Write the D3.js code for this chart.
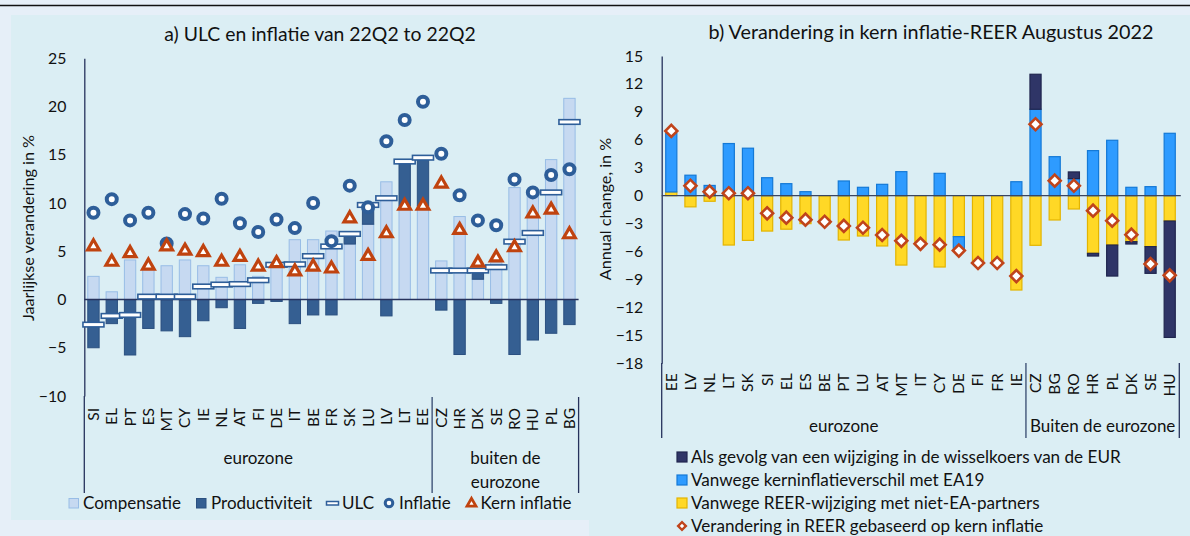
<!DOCTYPE html>
<html><head><meta charset="utf-8">
<script src="https://cdn.jsdelivr.net/npm/d3@7"></script>
<style>
body{margin:0;background:#e6eff8;}
svg{display:block;font-family:Lato,"Noto Sans",sans-serif;}
</style></head><body><svg id="c" width="1190" height="536"></svg>
<script>
// ---------- Panel a data ----------
const cats1 = ["SI","EL","PT","ES","MT","CY","IE","NL","AT","FI","DE","IT","BE","FR","SK","LU","LV","LT","EE","CZ","HR","DK","SE","RO","HU","PL","BG"];
const comp  = [2.4,0.8,4.1,3.2,3.5,4.1,3.5,2.3,3.6,2.4,3.8,6.2,6.2,7.1,5.75,7.8,12.2,9.7,9.7,4.0,8.6,2.1,3.8,11.6,11.1,14.5,20.85];
const prod  = [-5.0,-2.5,-5.75,-3.0,-3.25,-3.85,-2.2,-0.85,-3.0,-0.4,-0.2,-2.5,-1.6,-1.6,1.05,2.0,-1.7,4.6,5.0,-1.1,-5.7,0.9,-0.4,-5.7,-4.2,-3.5,-2.6];
const ulc   = [-2.6,-1.7,-1.6,0.3,0.3,0.3,1.35,1.55,1.6,2.0,3.6,3.65,4.5,5.5,6.8,9.8,10.5,14.3,14.7,3.0,3.0,3.0,3.35,6.0,6.9,11.1,18.4];
const infl  = [9.0,10.4,8.2,9.0,5.8,8.85,8.4,10.45,7.9,7.0,8.3,7.4,10.0,6.05,11.8,9.55,16.4,18.6,20.5,15.1,10.8,8.2,7.7,12.45,11.1,12.9,13.5];
const kern  = [5.5,3.9,4.8,3.5,5.5,5.05,4.9,3.9,4.4,3.4,3.75,2.9,3.4,3.2,8.4,4.5,6.85,9.7,9.7,12.0,7.2,3.8,4.35,5.4,8.9,9.3,6.75];
const ticks1 = [-10,-5,0,5,10,15,20,25];
const groups1 = [{lines:["eurozone"],first:"SI",last:"EE"},{lines:["buiten de","eurozone"],first:"CZ",last:"BG"}];
const legend1 = ["Compensatie","Productiviteit","ULC","Inflatie","Kern inflatie"];

// ---------- Panel b data ----------
const cats2 = ["EE","LV","NL","LT","SK","SI","EL","ES","BE","PT","LU","AT","MT","IT","CY","DE","FI","FR","IE","CZ","BG","RO","HR","PL","DK","SE","HU"];
const exch    = [0,0,0,0,0,0,0,0,0,0,0,0,0,0,0,0,0,0,0,3.76,0,0.72,-0.29,-3.33,-0.25,-2.87,-12.5];
const kernDif = [6.3,2.2,1.1,5.6,5.1,1.93,1.29,0.43,0,1.58,0.9,1.22,2.58,0,2.4,-1.45,0,0,1.5,9.28,4.19,1.83,4.84,5.95,0.9,0.97,6.7];
const reerNon = [0.4,-1.2,-0.6,-5.3,-4.8,-3.8,-3.6,-3.0,-3.0,-4.76,-4.33,-5.4,-7.45,-5.1,-7.66,-4.4,-7.2,-7.3,-10.13,-5.33,-2.61,-1.43,-6.19,-5.3,-4.94,-5.47,-2.72];
const reerTot = [6.95,1.07,0.43,0.26,0.26,-1.9,-2.36,-2.58,-2.8,-3.25,-3.44,-4.22,-4.85,-5.17,-5.26,-5.9,-7.23,-7.23,-8.63,7.67,1.61,1.07,-1.61,-2.68,-4.19,-7.34,-8.55];
const ticks2 = [-18,-15,-12,-9,-6,-3,0,3,6,9,12,15];
const groups2 = [{lines:["eurozone"],first:"EE",last:"IE"},{lines:["Buiten de eurozone"],first:"CZ",last:"HU"}];
const legend2 = ["Als gevolg van een wijziging in de wisselkoers van de EUR","Vanwege kerninflatieverschil met EA19","Vanwege REER-wijziging met niet-EA-partners","Verandering in REER gebaseerd op kern inflatie"];

// ---------- styles ----------
const C = {
  outer:"#e6eff8", panel:"#dbeef4", axis:"#26325c", text:"#111",
  comp:"#c6d9f1", compS:"#98bde6", prod:"#355f92", prodS:"#2b5080",
  mark:"#2e5e99", tri:"#c0430f",
  exch:"#2f3567", exchS:"#20264f", kern:"#2e9bff", kernS:"#1479d6", reer:"#ffd826", reerS:"#e3b400",
  dia:"#c0441b"
};

const svg = d3.select("#c");
svg.append("rect").attr("width",1190).attr("height",536).attr("fill",C.outer);
svg.append("rect").attr("x",11).attr("y",15).attr("width",1179).attr("height",505).attr("fill",C.panel);
svg.append("rect").attr("x",589).attr("y",15).attr("width",601).attr("height",521).attr("fill",C.panel);
svg.append("line").attr("x1",0).attr("x2",1190).attr("y1",5.5).attr("y2",5.5).attr("stroke","#111").attr("stroke-width",1.5);

// ================= Panel a =================
const x1 = d3.scaleBand().domain(cats1).range([84.3,578.6]).paddingInner(0.38).paddingOuter(0.19);
const y1 = d3.scaleLinear().domain([-10,25]).range([396,58.3]);
const g1 = svg.append("g");

g1.append("text").attr("x",320).attr("y",41).attr("text-anchor","middle").attr("font-size",19.4).attr("fill",C.text)
  .text("a) ULC en inflatie van 22Q2 to 22Q2");

const ax1 = g1.append("g").attr("transform","translate(84.3,0)")
  .call(d3.axisLeft(y1).tickValues(ticks1).tickSize(0).tickPadding(18).tickFormat(d3.format("d")));
ax1.select(".domain").attr("stroke",C.axis).attr("stroke-width",1.3);
ax1.selectAll("text").attr("font-size",15.8).attr("fill",C.text).attr("font-family","Lato");

g1.append("text").attr("transform","translate(28,228) rotate(-90)").attr("text-anchor","middle").attr("dy","0.35em")
  .attr("font-size",16.2).attr("fill",C.text).text("Jaarlijkse verandering in %");

const rows1 = cats1.map((c,i)=>({cat:c,comp:comp[i],prod:prod[i]}));
const st1 = d3.stack().keys(["comp","prod"]).offset(d3.stackOffsetDiverging)(rows1);
const fill1 = {comp:[C.comp,C.compS],prod:[C.prod,C.prodS]};
st1.forEach(s=>{
  g1.append("g").selectAll("rect").data(s).join("rect")
    .attr("x",d=>x1(d.data.cat)).attr("width",x1.bandwidth())
    .attr("y",d=>y1(Math.max(d[0],d[1]))).attr("height",d=>Math.abs(y1(d[0])-y1(d[1])))
    .attr("fill",fill1[s.key][0]).attr("stroke",fill1[s.key][1]).attr("stroke-width",1);
});
g1.append("line").attr("x1",x1.range()[0]).attr("x2",x1.range()[1]).attr("y1",y1(0)).attr("y2",y1(0))
  .attr("stroke",C.axis).attr("stroke-width",1.3);

// ULC markers
g1.append("g").selectAll("rect").data(cats1).join("rect")
  .attr("x",d=>x1(d)+x1.bandwidth()/2-10.5).attr("width",21)
  .attr("y",(d,i)=>y1(ulc[i])-2.3).attr("height",4.6)
  .attr("fill","#fff").attr("stroke",C.mark).attr("stroke-width",1.6);
// Inflatie circles
g1.append("g").selectAll("circle").data(cats1).join("circle")
  .attr("cx",d=>x1(d)+x1.bandwidth()/2).attr("cy",(d,i)=>y1(infl[i])).attr("r",5)
  .attr("fill","#fff").attr("stroke",C.mark).attr("stroke-width",4);
// Kern inflatie triangles
const triSym = d3.symbol(d3.symbolTriangle,58);
g1.append("g").selectAll("path").data(cats1).join("path")
  .attr("d",triSym).attr("transform",(d,i)=>`translate(${x1(d)+x1.bandwidth()/2},${y1(kern[i])})`)
  .attr("fill","#fff").attr("stroke",C.tri).attr("stroke-width",3.2).attr("stroke-linejoin","miter");

// category labels
const xa1 = g1.append("g").attr("transform","translate(0,396)").call(d3.axisBottom(x1).tickSize(0));
xa1.select(".domain").remove();
xa1.selectAll("text").attr("transform","rotate(-90)").attr("x",-12).attr("y",0).attr("dy","0.35em")
  .attr("text-anchor","end").attr("font-size",15.5).attr("fill",C.text).attr("font-family","Lato");

// group separators & labels
function bounds(x,first,last){ const s=x.step(); const pi=x.paddingInner()*s/2; return [x(first)-pi, x(last)+x.bandwidth()+pi]; }
g1.append("line").attr("x1",84.3).attr("x2",84.3).attr("y1",396).attr("y2",493).attr("stroke",C.axis).attr("stroke-width",1.3);
groups1.forEach((gr,gi)=>{
  const [a,b] = bounds(x1,gr.first,gr.last);
  if(gi>0) g1.append("line").attr("x1",a).attr("x2",a).attr("y1",397).attr("y2",493).attr("stroke","#4a5f80").attr("stroke-width",1.5);
  gr.lines.forEach((t,li)=>g1.append("text").attr("x",(a+b)/2).attr("y",464+li*23.5).attr("text-anchor","middle")
    .attr("font-size",17).attr("fill",C.text).text(t));
});
g1.append("line").attr("x1",578.6).attr("x2",578.6).attr("y1",397).attr("y2",493).attr("stroke",C.axis).attr("stroke-width",1.3);

// legend a
const lg1 = g1.append("g").attr("font-size",17).attr("fill",C.text);
const ly = 503;
lg1.append("rect").attr("x",69).attr("y",ly-4.5).attr("width",9.5).attr("height",9.5).attr("fill",C.comp).attr("stroke",C.compS);
lg1.append("text").attr("x",83).attr("y",ly+5.8).text(legend1[0]);
lg1.append("rect").attr("x",196.5).attr("y",ly-4.5).attr("width",9.5).attr("height",9.5).attr("fill",C.prod).attr("stroke",C.prodS);
lg1.append("text").attr("x",211).attr("y",ly+5.8).text(legend1[1]);
lg1.append("rect").attr("x",326.5).attr("y",ly-1.5).attr("width",12).attr("height",3.5).attr("fill","#fff").attr("stroke",C.mark).attr("stroke-width",1.5);
lg1.append("text").attr("x",342).attr("y",ly+5.8).text(legend1[2]);
lg1.append("circle").attr("cx",389).attr("cy",ly).attr("r",3.8).attr("fill","#fff").attr("stroke",C.mark).attr("stroke-width",3);
lg1.append("text").attr("x",399).attr("y",ly+5.8).text(legend1[3]);
lg1.append("path").attr("d",d3.symbol(d3.symbolTriangle,34)).attr("transform",`translate(471.5,${ly+0.5})`)
  .attr("fill","#fff").attr("stroke",C.tri).attr("stroke-width",2.8);
lg1.append("text").attr("x",480.5).attr("y",ly+5.8).text(legend1[4]);

// ================= Panel b =================
const x2 = d3.scaleBand().domain(cats2).range([661.7,1179.3]).paddingInner(0.42).paddingOuter(0.21);
const y2 = d3.scaleLinear().domain([-18,15]).range([363.3,56]);
const g2 = svg.append("g");

g2.append("text").attr("x",931).attr("y",38.5).attr("text-anchor","middle").attr("font-size",19.8).attr("fill",C.text)
  .text("b) Verandering in kern inflatie-REER Augustus 2022");

const ax2 = g2.append("g").attr("transform","translate(661.7,0)")
  .call(d3.axisLeft(y2).tickValues(ticks2).tickSize(0).tickPadding(18.5).tickFormat(d3.format("d")));
ax2.select(".domain").attr("stroke",C.axis).attr("stroke-width",1.3);
ax2.selectAll("text").attr("font-size",15.8).attr("fill",C.text).attr("font-family","Lato");

g2.append("text").attr("transform","translate(605,209) rotate(-90)").attr("text-anchor","middle").attr("dy","0.35em")
  .attr("font-size",16.2).attr("fill",C.text).text("Annual change, in %");

const rows2 = cats2.map((c,i)=>({cat:c,reer:reerNon[i],kern:kernDif[i],exch:exch[i]}));
const st2 = d3.stack().keys(["reer","kern","exch"]).offset(d3.stackOffsetDiverging)(rows2);
const fill2 = {reer:[C.reer,C.reerS],kern:[C.kern,C.kernS],exch:[C.exch,C.exchS]};
st2.forEach(s=>{
  g2.append("g").selectAll("rect").data(s.filter(d=>d[0]!==d[1])).join("rect")
    .attr("x",d=>x2(d.data.cat)).attr("width",x2.bandwidth())
    .attr("y",d=>y2(Math.max(d[0],d[1]))).attr("height",d=>Math.abs(y2(d[0])-y2(d[1])))
    .attr("fill",fill2[s.key][0]).attr("stroke",fill2[s.key][1]).attr("stroke-width",1.2);
});
g2.append("line").attr("x1",x2.range()[0]).attr("x2",x2.range()[1]+1.5).attr("y1",y2(0)).attr("y2",y2(0))
  .attr("stroke","#3a4560").attr("stroke-width",1.3);

const diaSym = d3.symbol(d3.symbolSquare,72);
g2.append("g").selectAll("path").data(cats2).join("path")
  .attr("d",diaSym).attr("transform",(d,i)=>`translate(${x2(d)+x2.bandwidth()/2},${y2(reerTot[i])}) rotate(45)`)
  .attr("fill","#fff").attr("stroke",C.dia).attr("stroke-width",2.6);

const xa2 = g2.append("g").attr("transform","translate(0,363.3)").call(d3.axisBottom(x2).tickSize(0));
xa2.select(".domain").remove();
xa2.selectAll("text").attr("transform","rotate(-90)").attr("x",-10).attr("y",0).attr("dy","0.35em")
  .attr("text-anchor","end").attr("font-size",15.5).attr("fill",C.text).attr("font-family","Lato");

g2.append("line").attr("x1",661.7).attr("x2",661.7).attr("y1",363).attr("y2",438).attr("stroke",C.axis).attr("stroke-width",1.3);
groups2.forEach((gr,gi)=>{
  const [a,b] = bounds(x2,gr.first,gr.last);
  if(gi>0) g2.append("line").attr("x1",a).attr("x2",a).attr("y1",363).attr("y2",438).attr("stroke","#4a5f80").attr("stroke-width",1.5);
  gr.lines.forEach((t,li)=>g2.append("text").attr("x",(a+b)/2).attr("y",432+li*23).attr("text-anchor","middle")
    .attr("font-size",17).attr("fill",C.text).text(t));
});
g2.append("line").attr("x1",1179.3).attr("x2",1179.3).attr("y1",363).attr("y2",438).attr("stroke",C.axis).attr("stroke-width",1.3);

// legend b
const lg2 = g2.append("g").attr("font-size",17.1).attr("fill",C.text);
const lfill = [[C.exch,C.exchS],[C.kern,C.kernS],[C.reer,C.reerS]];
legend2.forEach((t,i)=>{
  const cy = 457+i*23;
  if(i<3) lg2.append("rect").attr("x",677).attr("y",cy-5).attr("width",10).attr("height",10).attr("fill",lfill[i][0]).attr("stroke",lfill[i][1]).attr("stroke-width",1.2);
  else lg2.append("path").attr("d",d3.symbol(d3.symbolSquare,30)).attr("transform",`translate(682,${cy}) rotate(45)`)
        .attr("fill","#fff").attr("stroke",C.dia).attr("stroke-width",2.4);
  lg2.append("text").attr("x",691).attr("y",cy+6).text(t);
});
</script></body></html>
